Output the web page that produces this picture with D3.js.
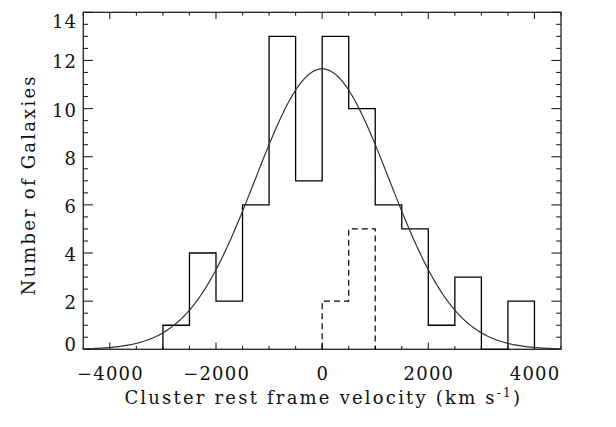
<!DOCTYPE html>
<html>
<head>
<meta charset="utf-8">
<script src="https://cdn.jsdelivr.net/npm/d3@7"></script>
<style>
  html, body { margin: 0; padding: 0; background: #fff; }
  svg text { font-family: "DejaVu Serif", "Liberation Serif", serif; fill: #111; }
</style>
</head>
<body>
<svg id="chart" width="616" height="427"></svg>
<script>
// ---- data ----
const binStarts = [-3000, -2500, -2000, -1500, -1000, -500, 0, 500, 1000, 1500, 2000, 2500, 3000, 3500];
const binCounts = [1, 4, 2, 6, 13, 7, 13, 10, 6, 5, 1, 3, 0, 2];
const binWidth = 500;
const subStarts = [0, 500];
const subCounts = [2, 5];
// Gaussian fit parameters (amplitude, mean, sigma)
const fitAmplitude = 11.65;
const fitMean = 0;
const fitSigma = 1260;
const xTickValues = [-4000, -2000, 0, 2000, 4000];
const xTickLabels = ["\u22124000", "\u22122000", "0", "2000", "4000"];
const yTickValues = [0, 2, 4, 6, 8, 10, 12, 14];
const yTickLabels = ["0", "2", "4", "6", "8", "10", "12", "14"];

// ---- layout ----
const L = 83.3, R = 561, T = 12.3, B = 349.3;
const svg = d3.select("#chart");
const x = d3.scaleLinear().domain([-4500, 4500]).range([L, R]);
const y = d3.scaleLinear().domain([0, 14]).range([B, T]);

const axisColor = "#222";
const g = svg.append("g");

// ticks on all sides (inward)
const xMinor = d3.range(-4500, 4501, 500);
const yMinor = d3.range(0, 14.01, 0.5);
const xMajLen = 6.7, xMinLen = 3.4, yMajLen = 9.6, yMinLen = 4.8;
const isMajX = v => Math.abs(v % 2000) < 1e-6;
const isMajY = v => Math.abs(v % 2) < 1e-6;
xMinor.forEach(v => {
  const len = isMajX(v) ? xMajLen : xMinLen;
  g.append("line").attr("x1", x(v)).attr("x2", x(v)).attr("y1", B).attr("y2", B - len)
    .attr("stroke", axisColor).attr("stroke-width", 1.1);
  g.append("line").attr("x1", x(v)).attr("x2", x(v)).attr("y1", T).attr("y2", T + len)
    .attr("stroke", axisColor).attr("stroke-width", 1.1);
});
yMinor.forEach(v => {
  const len = isMajY(v) ? yMajLen : yMinLen;
  g.append("line").attr("x1", L).attr("x2", L + len).attr("y1", y(v)).attr("y2", y(v))
    .attr("stroke", axisColor).attr("stroke-width", 1.1);
  g.append("line").attr("x1", R).attr("x2", R - len).attr("y1", y(v)).attr("y2", y(v))
    .attr("stroke", axisColor).attr("stroke-width", 1.1);
});

// frame
g.append("rect").attr("x", L).attr("y", T).attr("width", R - L).attr("height", B - T)
  .attr("fill", "none").attr("stroke", axisColor).attr("stroke-width", 1.3);

// histogram outline
function histPath(starts, counts) {
  let p = `M${x(starts[0])},${y(0)}`;
  starts.forEach((s, i) => {
    p += `V${y(counts[i])}H${x(s + binWidth)}`;
  });
  p += `V${y(0)}`;
  return p;
}
g.append("path").attr("d", histPath(binStarts, binCounts))
  .attr("fill", "none").attr("stroke", "#000").attr("stroke-width", 1.3);
g.append("path").attr("d", histPath(subStarts, subCounts))
  .attr("fill", "none").attr("stroke", "#000").attr("stroke-width", 1.2)
  .attr("stroke-dasharray", "6,4");

// gaussian fit curve
const xs = d3.range(-4500, 4501, 30);
const line = d3.line().x(d => x(d)).y(d => y(fitAmplitude * Math.exp(-((d - fitMean) ** 2) / (2 * fitSigma ** 2))));
g.append("path").datum(xs).attr("d", line)
  .attr("fill", "none").attr("stroke", "#333").attr("stroke-width", 1.2);

// tick labels
const fs = 18;
const tickLS = 1.2;
xTickValues.forEach((v, i) => {
  svg.append("text").attr("x", x(v) + tickLS / 2).attr("y", 380).attr("text-anchor", "middle")
    .attr("font-size", fs).attr("letter-spacing", tickLS).text(xTickLabels[i]);
});
yTickValues.forEach((v, i) => {
  let cy = y(v) + 1.5;
  if (v === 14) cy = y(v) + 9;
  if (v === 0) cy = y(v) - 5;
  svg.append("text").attr("x", 76 + tickLS).attr("y", cy).attr("dy", "0.36em").attr("text-anchor", "end")
    .attr("font-size", fs).attr("letter-spacing", tickLS).text(yTickLabels[i]);
});

// axis titles
const titleLS = 2.2;
const xt = svg.append("text").attr("x", (L + R) / 2 + titleLS / 2).attr("y", 404).attr("text-anchor", "middle")
  .attr("font-size", fs).attr("letter-spacing", titleLS);
xt.append("tspan").text("Cluster rest frame velocity (km s");
xt.append("tspan").attr("font-size", 12).attr("dy", -7).text("-1");
xt.append("tspan").attr("dy", 7).text(")");

svg.append("text").attr("transform", `translate(35,${(T + B) / 2 + 3 + titleLS / 2}) rotate(-90)`)
  .attr("text-anchor", "middle").attr("font-size", fs).attr("letter-spacing", titleLS).text("Number of Galaxies");
</script>
</body>
</html>
